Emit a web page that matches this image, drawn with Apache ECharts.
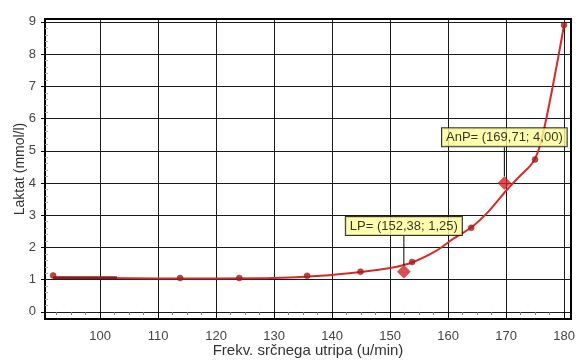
<!DOCTYPE html>
<html>
<head>
<meta charset="utf-8">
<script src="https://cdn.jsdelivr.net/npm/echarts@6/dist/echarts.min.js"></script>
<style>
html,body{margin:0;padding:0;background:#fff;}
#chart{width:576px;height:360px;}
</style>
</head>
<body>
<div id="chart"></div>
<script>
// Tick labels
var xTicks = [100, 110, 120, 130, 140, 150, 160, 170, 180];
var yTicks = [0, 1, 2, 3, 4, 5, 6, 7, 8, 9];
var xMinorTicks = [92.5, 95, 97.5, 102.5, 105, 107.5, 112.5, 115, 117.5, 122.5, 125, 127.5, 132.5, 135, 137.5, 142.5, 145, 147.5, 152.5, 155, 157.5, 162.5, 165, 167.5, 172.5, 175, 177.5];
var yMinorTicks = [0.2,0.4,0.6,0.8,1.2,1.4,1.6,1.8,2.2,2.4,2.6,2.8,3.2,3.4,3.6,3.8,4.2,4.4,4.6,4.8,5.2,5.4,5.6,5.8,6.2,6.4,6.6,6.8,7.2,7.4,7.6,7.8,8.2,8.4,8.6,8.8];

// Measured points (heart rate, lactate)
var measuredHR = [91.9, 113.8, 124.0, 135.7, 144.9, 153.8, 164.0, 175.0, 180.0];
var measuredLac = [1.13, 1.05, 1.05, 1.12, 1.25, 1.55, 2.61, 4.73, 8.9];

// Fitted curve
var curveHR = [91.9, 100, 110, 120, 130, 138, 145, 150, 154, 158, 161, 164, 167, 170, 172, 174, 175, 176, 177, 178, 179, 180];
var curveLac = [1.06, 1.05, 1.04, 1.04, 1.05, 1.12, 1.24, 1.36, 1.55, 1.9, 2.28, 2.62, 3.12, 3.76, 4.15, 4.5, 4.75, 5.25, 6.05, 6.95, 7.9, 8.9];

// Baseline segment
var baseHR = [91.9, 102.9];
var baseLac = [1.06, 1.06];

// Thresholds
var thrNames = ['LP', 'AnP'];
var thrHR = [152.38, 169.71];
var thrLac = [1.25, 4.00];

function zip(a, b) { return a.map(function (v, i) { return [v, b[i]]; }); }
function fmt(v) { return v.toFixed(2).replace('.', ','); }

var font = 'Liberation Sans, Arial, sans-serif';
var chart = echarts.init(document.getElementById('chart'), null, {renderer: 'canvas'});

var xMin = 90.5, xMax = 181.2, yMin = -0.22, yMax = 9.09;

chart.setOption({
  animation: false,
  backgroundColor: '#fff',
  grid: {left: 45, right: 5, top: 19, bottom: 41, containLabel: false, outerBoundsMode: 'none',
         show: true, borderColor: '#000', borderWidth: 2, backgroundColor: 'transparent'},
  xAxis: [{
    type: 'value', min: xMin, max: xMax,
    name: 'Frekv. srčnega utripa (u/min)', nameLocation: 'middle', nameGap: 24, nameMoveOverlap: false,
    nameTextStyle: {fontFamily: font, fontSize: 15, color: '#333'},
    axisLine: {show: false},
    axisTick: {show: true, inside: false, length: 5, customValues: xTicks, lineStyle: {color: '#000'}},
    axisLabel: {customValues: xTicks, fontFamily: font, fontSize: 13, color: '#444', margin: 11},
    splitLine: {show: true, lineStyle: {color: '#1a1a1a', width: 1}}
  }, {
    type: 'value', min: xMin, max: xMax, position: 'bottom',
    axisLine: {show: false},
    axisTick: {show: true, inside: false, length: 3, customValues: xMinorTicks, lineStyle: {color: '#777'}},
    axisLabel: {show: false},
    splitLine: {show: false}
  }],
  yAxis: [{
    type: 'value', min: yMin, max: yMax,
    name: 'Laktat (mmol/l)', nameLocation: 'middle', nameGap: 18, nameMoveOverlap: false,
    nameTextStyle: {fontFamily: font, fontSize: 14, color: '#333'},
    axisLine: {show: false},
    axisTick: {show: true, inside: false, length: 4, customValues: yTicks, lineStyle: {color: '#000'}},
    axisLabel: {customValues: yTicks, fontFamily: font, fontSize: 13, color: '#444', margin: 9},
    splitLine: {show: true, lineStyle: {color: '#1a1a1a', width: 1}}
  }, {
    type: 'value', min: yMin, max: yMax, position: 'left',
    axisLine: {show: false},
    axisTick: {show: true, inside: true, length: 3, customValues: yMinorTicks, lineStyle: {color: '#aaa'}},
    axisLabel: {show: false},
    splitLine: {show: false}
  }],
  series: [
    {
      type: 'line', data: zip(curveHR, curveLac), smooth: 0.2, showSymbol: false,
      lineStyle: {color: '#d42a2a', width: 2}, z: 3
    },
    {
      type: 'line', data: zip(baseHR, baseLac), showSymbol: false,
      lineStyle: {color: '#8e1b1b', width: 3}, z: 4
    },
    {
      type: 'scatter', data: zip(measuredHR, measuredLac), symbol: 'circle', symbolSize: 6,
      itemStyle: {color: '#a81c1c', borderColor: '#8a1515', borderWidth: 0.5}, z: 5
    },
    {
      type: 'scatter', symbol: 'diamond', symbolSize: 13,
      itemStyle: {color: '#d42222', borderColor: '#b01515', borderWidth: 0.5}, z: 6,
      data: thrHR.map(function (h, i) { return {name: thrNames[i], value: [h, thrLac[i]]}; }),
      label: {
        show: true, position: 'top', distance: 4,
        formatter: function (p) { return p.name + '= (' + fmt(p.value[0]) + '; ' + fmt(p.value[1]) + ')'; },
        fontFamily: font, fontSize: 13, color: '#000',
        backgroundColor: '#ffff99', borderColor: '#000', borderWidth: 1, padding: [3, 4, 2, 4]
      },
      labelLayout: {dy: -26},
      labelLine: {show: true, lineStyle: {color: '#000', width: 1}}
    }
  ]
});
</script>
</body>
</html>
